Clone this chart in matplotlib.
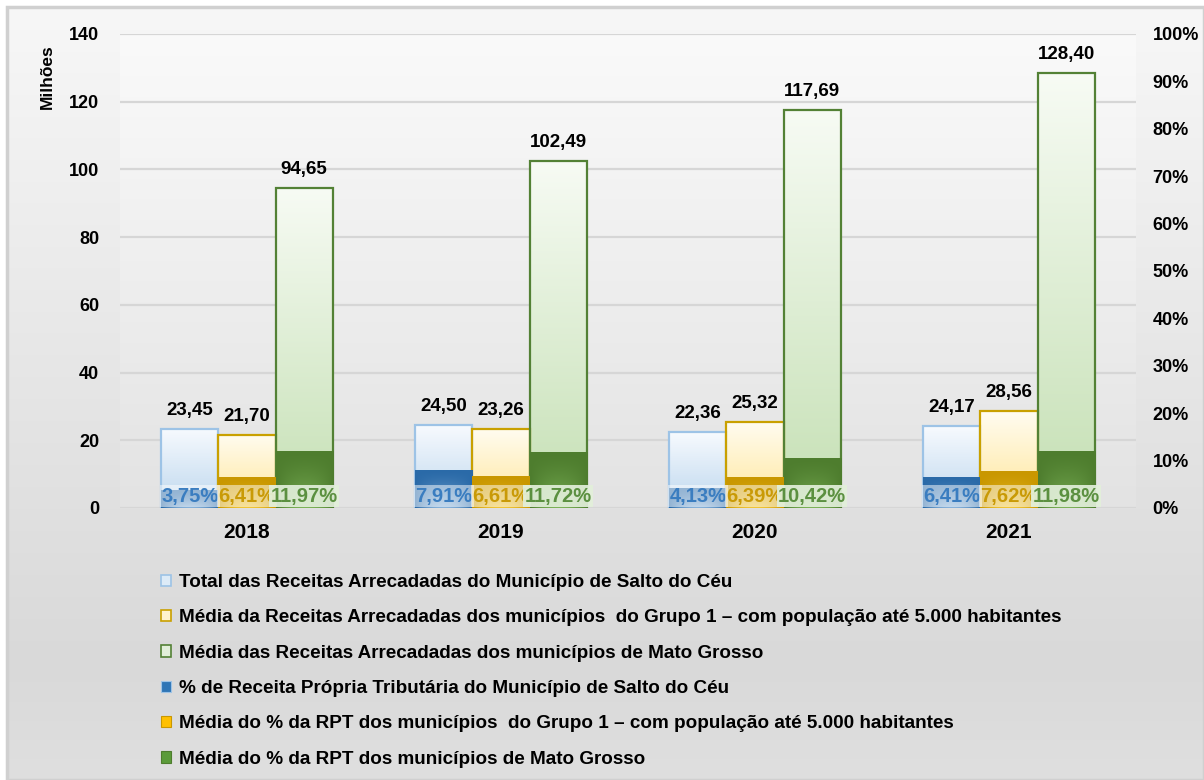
import numpy as np
import matplotlib
matplotlib.use("Agg")
import matplotlib.pyplot as plt
from matplotlib.patches import Rectangle, Patch
from matplotlib.colors import to_rgb
from matplotlib.ticker import FuncFormatter, MultipleLocator

plt.rcParams['font.family'] = ['Liberation Sans', 'DejaVu Sans']
plt.rcParams['font.weight'] = 'bold'

# ---------------- data ----------------
years = ["2018", "2019", "2020", "2021"]
receita_salto = [23.45, 24.50, 22.36, 24.17]
receita_grupo1 = [21.70, 23.26, 25.32, 28.56]
receita_mt = [94.65, 102.49, 117.69, 128.40]
pct_salto = [3.75, 7.91, 4.13, 6.41]
pct_grupo1 = [6.41, 6.61, 6.39, 7.62]
pct_mt = [11.97, 11.72, 10.42, 11.98]

labels = [
    "Total das Receitas Arrecadadas do Município de Salto do Céu",
    "Média da Receitas Arrecadadas dos municípios  do Grupo 1 – com população até 5.000 habitantes",
    "Média das Receitas Arrecadadas dos municípios de Mato Grosso",
    "% de Receita Própria Tributária do Município de Salto do Céu",
    "Média do % da RPT dos municípios  do Grupo 1 – com população até 5.000 habitantes",
    "Média do % da RPT dos municípios de Mato Grosso",
]

W, H = 1204, 780
fig = plt.figure(figsize=(W / 100, H / 100), dpi=100)
fig.patch.set_facecolor("white")

def mix(c1, c2, t):
    c1 = np.array(to_rgb(c1)); c2 = np.array(to_rgb(c2))
    t = np.asarray(t)[..., None]
    return c1 * (1 - t) + c2 * t

# ---------- figure background (gradient) ----------
bg = fig.add_axes([7 / W, 0, 1 - 7 / W, 1 - 7 / H], zorder=-100)
yy = np.linspace(0, 1, 300)
stops_y = [0.0, 0.45, 0.85, 1.0]
stops_c = [to_rgb("#F7F7F7"), to_rgb("#E7E7E7"), to_rgb("#D9D9D9"), to_rgb("#DFDFDF")]
col = np.zeros((300, 1, 3))
for k in range(3):
    col[:, 0, k] = np.interp(yy, stops_y, [c[k] for c in stops_c])
bg.imshow(col, aspect="auto", extent=[0, 1, 1, 0], interpolation="bilinear")
bg.set_xlim(0, 1); bg.set_ylim(1, 0)
bg.axis("off")
bg.add_patch(Rectangle((0, 0), 1, 1, transform=bg.transAxes, fill=False,
                       edgecolor="#D0D0D0", linewidth=2.5, clip_on=False))

# ---------- main axes ----------
L, R = 120, 1136
T, B = 34, 508
ax = fig.add_axes([L / W, 1 - B / H, (R - L) / W, (B - T) / H])
ax.patch.set_visible(False)
ax2 = ax.twinx()

x = np.arange(len(years))
bw = 0.2245

# plot-area gradient background
pa = mix("#FAFAFA", "#E3E3E3", np.linspace(0, 1, 200))[:, None, :]
ax.imshow(pa, aspect="auto", extent=[0, 1, 0, 1], transform=ax.transAxes,
          zorder=-5, interpolation="bilinear")

ax.yaxis.set_major_locator(MultipleLocator(20))
ax.grid(axis="y", color="#D6D6D6", linewidth=1.6)
ax.set_axisbelow(True)
for a in (ax, ax2):
    for s in a.spines.values():
        s.set_visible(False)
ax.tick_params(axis="y", length=0, pad=15, labelsize=13)
ax.tick_params(axis="x", length=0, pad=11, labelsize=15)
ax.set_xticks(x)
ax.set_xticklabels(years)
ax2.yaxis.set_major_locator(MultipleLocator(0.1))
ax2.yaxis.set_major_formatter(FuncFormatter(lambda v, p: f"{v*100:.0f}%"))
ax2.tick_params(axis="y", length=0, pad=12, labelsize=13)

def grad_bar(a, xc, h, top_c, bot_c, edge, lw=1.6, z=2):
    n = 100
    arr = mix(top_c, bot_c, np.linspace(0, 1, n))[:, None, :]
    a.imshow(arr, aspect="auto", extent=[xc - bw / 2, xc + bw / 2, 0, h],
             origin="upper", zorder=z, interpolation="bilinear")
    a.add_patch(Rectangle((xc - bw / 2, 0), bw, h, fill=False, edgecolor=edge,
                          linewidth=lw, zorder=z + 0.1))

def shaded_bar(a, xc, h, dark, light, z=3):
    ny, nx = 60, 40
    gy, gx = np.mgrid[0:1:ny * 1j, -1:1:nx * 1j]
    t = (gy ** 1.5) * (1 - np.abs(gx) ** 2) * 0.75
    arr = mix(dark, light, t)
    a.imshow(arr, aspect="auto", extent=[xc - bw / 2, xc + bw / 2, 0, h],
             origin="upper", zorder=z, interpolation="bilinear")

series = [
    (receita_salto, -bw, "#F7FAFE", "#BDD7EE", "#9DC3E6"),
    (receita_grupo1, 0.0, "#FFFCF0", "#FFE69A", "#C9A000"),
    (receita_mt, bw, "#F7FBF4", "#C5E0B4", "#538135"),
]
for vals, off, tc, bc, ec in series:
    for xi, v in zip(x, vals):
        grad_bar(ax, xi + off, v, tc, bc, ec)
        ax.annotate(f"{v:.2f}".replace(".", ","), (xi + off, v), xytext=(0, 10),
                    textcoords="offset points", ha="center", va="baseline",
                    fontsize=13.5, fontweight="bold", color="black", zorder=6)

ax.set_xlim(-0.5, len(years) - 0.5)
ax.set_ylim(0, 140)

pct_series = [
    (pct_salto, -bw, "#2A6AA8", "#A9CBEB", "#3A7DC0", "#FFFFFF", 0.5),
    (pct_grupo1, 0.0, "#C99700", "#FFD54A", "#C99A06", "#FFFFFF", 0.5),
    (pct_mt, bw, "#4E7D2E", "#8CC466", "#5B9040", "#E2EFDA", 0.92),
]
for vals, off, dark, light, tcol, bgc, alp in pct_series:
    for xi, v in zip(x, vals):
        shaded_bar(ax2, xi + off, v / 100, dark, light)
        ax2.annotate(f"{v:.2f}%".replace(".", ","), (xi + off, 0), xytext=(0, 8.5),
                     textcoords="offset points", ha="center", va="center",
                     fontsize=14.5, fontweight="bold", color=tcol, zorder=8,
                     bbox=dict(boxstyle="square,pad=0.06", facecolor=bgc,
                               edgecolor="none", alpha=alp))

ax2.set_xlim(-0.5, len(years) - 0.5)
ax2.set_ylim(0, 1.0)

fig.text(47 / W, 1 - 77 / H, "Milhões", rotation=90, ha="center", va="center",
         fontsize=12.5, fontweight="bold")

# ---------- legend ----------
handles = [
    Patch(facecolor="#DDEBF7", edgecolor="#9DC3E6", linewidth=1.2),
    Patch(facecolor="#FFF2CC", edgecolor="#C9A000", linewidth=1.2),
    Patch(facecolor="#E2EFDA", edgecolor="#538135", linewidth=1.2),
    Patch(facecolor="#2E75B6", edgecolor="#9DC3E6", linewidth=0.8),
    Patch(facecolor="#FFC000", edgecolor="#C99700", linewidth=0.8),
    Patch(facecolor="#5B9B3A", edgecolor="#4E7D2E", linewidth=0.8),
]
fs = 13.6
fig.legend(handles, labels, loc="upper left", bbox_to_anchor=(161 / W, 1 - 574 / H),
           frameon=False, handlelength=0.55, handleheight=0.55,
           handletextpad=0.4, labelspacing=0.97, borderpad=0, borderaxespad=0,
           prop={"weight": "bold", "size": fs})

fig.savefig("out.png", dpi=100)
